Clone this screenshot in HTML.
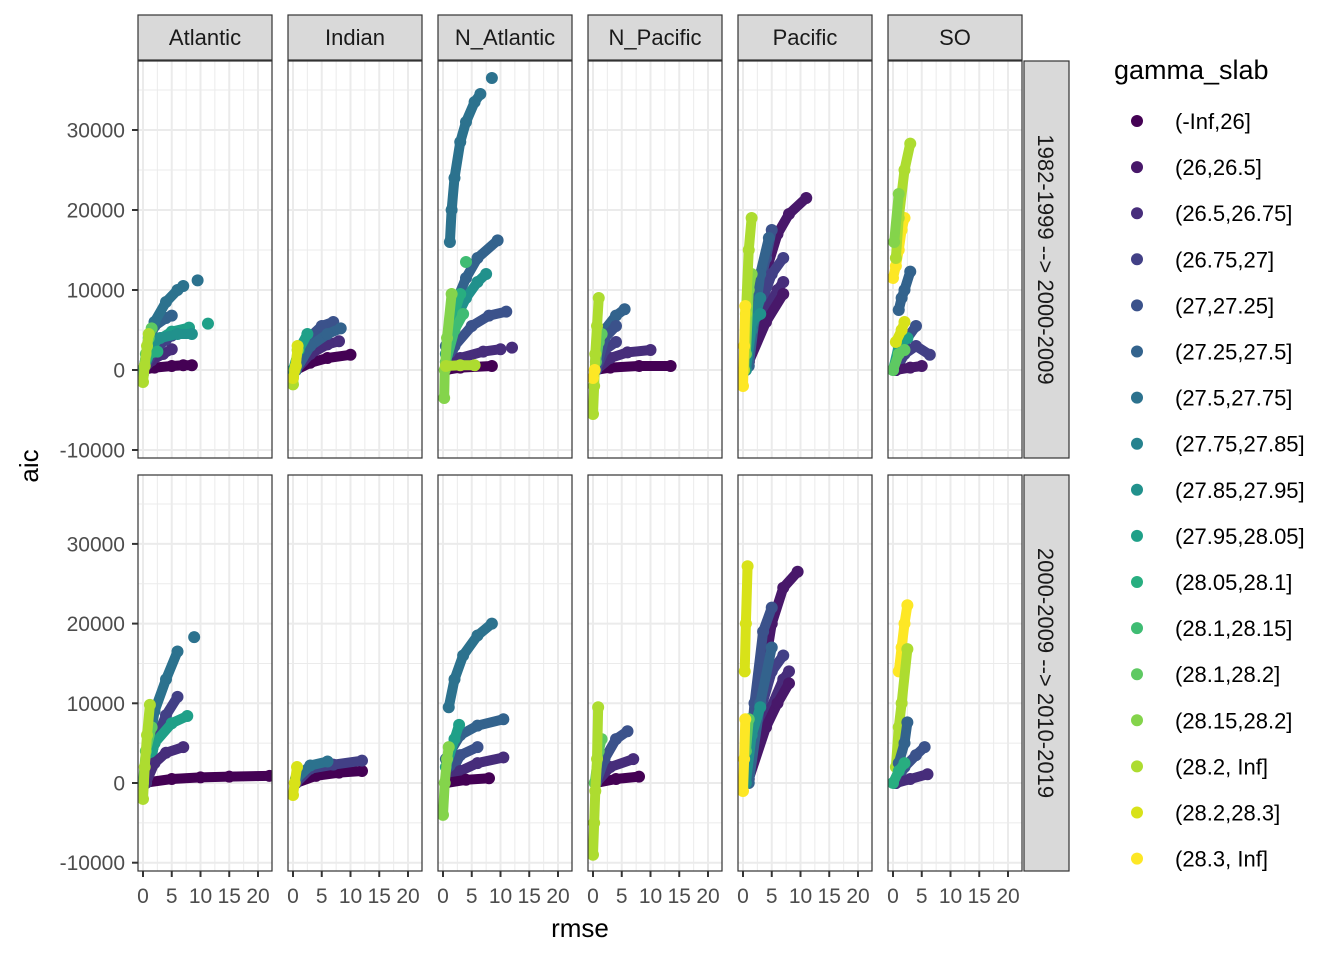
<!DOCTYPE html>
<html><head><meta charset="utf-8"><style>
html,body{margin:0;padding:0;background:#fff;}
svg{display:block;font-family:"Liberation Sans",Arial,sans-serif;}
</style></head><body>
<svg id="chart" width="1344" height="960" viewBox="0 0 1344 960"></svg>
<script>
const facets = ["Atlantic","Indian","N_Atlantic","N_Pacific","Pacific","SO"];
const rows = ["1982-1999 --> 2000-2009","2000-2009 --> 2010-2019"];
const groupLabels = ["(-Inf,26]","(26,26.5]","(26.5,26.75]","(26.75,27]","(27,27.25]","(27.25,27.5]","(27.5,27.75]","(27.75,27.85]","(27.85,27.95]","(27.95,28.05]","(28.05,28.1]","(28.1,28.15]","(28.1,28.2]","(28.15,28.2]","(28.2, Inf]","(28.2,28.3]","(28.3, Inf]"];
const groupColors = ["#440154","#48186a","#472d7b","#424086","#3b528b","#33638d","#2c728e","#26828e","#21918c","#1fa088","#28ae80","#3fbc73","#5ec962","#84d44b","#addc30","#d8e219","#fde725"];
const xTicks = [0,5,10,15,20];
const yTicks = [-10000,0,10000,20000,30000];

// each curve: [group, [[rmse, aic], ...]]
const atlantic1 = [
 [0,[[0,0],[2,300],[5,500],[7,600],[8.5,600]]],
 [2,[[0,0],[1.5,1200],[3.5,2000],[5,2600]]],
 [3,[[0,0],[2,2500],[4,3800],[5,4300]]],
 [5,[[0,0],[1,3500],[2,5500],[4,6500],[5,6800]]],
 [6,[[0,0],[1,3000],[2,6000],[4,8500],[6,10000],[7,10500]]],
 [6,[[9.5,11200]]],
 [9,[[0,0],[2,3500],[5,4800],[8,5300]]],
 [9,[[11.3,5800]]],
 [8,[[0,0],[1,3000],[3,4000],[6,4500],[8.5,4500]]],
 [10,[[0,0],[1,2000],[2.5,2300]]],
 [12,[[0,-500],[0.5,2000],[1,4000],[1.5,5200]]],
 [14,[[0,-1500],[0.3,500],[0.7,3000],[1,4500]]]
];
const indian1 = [
 [0,[[0.5,0],[3,900],[6,1500],[10,1900]]],
 [2,[[0.5,0],[3,2000],[6,3200],[8,3600]]],
 [4,[[0.5,0],[2,3500],[5,5500],[7,6000]]],
 [5,[[0.5,0],[3,3000],[6,4500],[8.3,5200]]],
 [9,[[0,0],[1,2500],[2.5,4500]]],
 [14,[[0,-1800],[0.3,0],[0.8,2500]]],
 [15,[[0,-1000],[0.5,500],[0.8,3000]]]
];
const nAtlantic1 = [
 [6,[[1.2,16000],[1.5,20000],[2,24000],[3,28500],[4,31000],[5.5,33500],[6.5,34500]]],
 [6,[[8.5,36500]]],
 [5,[[0.5,3000],[2,8000],[4,11500],[6,14000],[9.5,16200]]],
 [8,[[0.5,2000],[2,6000],[4,9000],[6,11000],[7.5,12000]]],
 [10,[[0.5,1000],[1.5,6000],[3,9500]]],
 [11,[[4,13500]]],
 [4,[[0.5,0],[2,3000],[5,5500],[8,6800],[11,7300]]],
 [2,[[0.5,0],[3,1500],[7,2300],[10,2600]]],
 [2,[[12,2800]]],
 [0,[[0.5,0],[3,300],[8.5,500]]],
 [11,[[0.5,1000],[2,5000],[3.5,7000]]],
 [13,[[0.2,-3500],[0.3,0],[0.7,4000],[1.5,9500]]],
 [14,[[0.5,500],[3,600],[5.5,600]]]
];
const nPacific1 = [
 [0,[[0.5,0],[3,300],[8,500],[13.5,500]]],
 [2,[[0.5,0],[3,1500],[6,2200],[10,2500]]],
 [3,[[0.5,0],[2,2500],[4,3500]]],
 [5,[[0.5,0],[2,5000],[4,6800],[5.5,7600]]],
 [4,[[0.5,0],[2,4000],[4,5500]]],
 [12,[[0.5,1000],[1,3500],[1.5,4500]]],
 [14,[[0,-5500],[0.2,-2000],[0.4,2000],[0.7,5500],[1,9000]]],
 [16,[[0,-1000],[0.3,0]]]
];
const pacific1 = [
 [1,[[1,3000],[3,10000],[6,17000],[8,19500],[11,21500]]],
 [4,[[1,2000],[2,8000],[4,14000],[5,17500]]],
 [3,[[1,1500],[3,8000],[5,12000],[7,14000]]],
 [2,[[1,1000],[3,6000],[6,10000],[7,11000]]],
 [1,[[1,1000],[4,6000],[7,9500]]],
 [5,[[1,500],[3,12000],[4.5,16500]]],
 [7,[[0.5,0],[1.5,5000],[3,9000]]],
 [8,[[0.5,0],[1.5,6000],[3,7000]]],
 [13,[[0.5,2000],[1,10000],[1.5,12000]]],
 [14,[[0.2,0],[0.5,7000],[1,15000],[1.5,19000]]],
 [16,[[0,-2000],[0.2,3000],[0.4,8000]]]
];
const so1 = [
 [16,[[0,11500],[0.5,13000],[1,15000],[1.5,17500],[2,19000]]],
 [14,[[0.5,14000],[1,19000],[2,25000],[3,28300]]],
 [13,[[0.2,16000],[1,22000]]],
 [5,[[1,7500],[1.5,9000],[2,10000],[3,12300]]],
 [4,[[0.5,0],[2,3500],[4,5500]]],
 [3,[[0.5,0],[2,2000],[4,3000],[6.4,1900]]],
 [1,[[0.5,0],[3,300],[5,500]]],
 [9,[[0,0],[1,3000],[2.5,4000]]],
 [12,[[0,0],[1,2000],[2,2500]]],
 [15,[[0.5,3500],[1.5,5000],[2,6000]]]
];
const atlantic2 = [
 [0,[[0,0],[5,500],[10,700],[15,800],[22,900]]],
 [6,[[0.5,2000],[2,9000],[4,13000],[6,16500]]],
 [6,[[8.9,18300]]],
 [3,[[0.5,0],[2,5000],[4,8500],[6,10800]]],
 [9,[[0.5,0],[2,5000],[5,7500],[7.7,8400]]],
 [2,[[0.5,0],[2,2500],[4,3800],[7,4500]]],
 [12,[[0,0],[0.5,4000],[1.5,7000]]],
 [14,[[0,-2000],[0.3,2000],[0.7,6000],[1.2,9800]]]
];
const indian2 = [
 [0,[[0.5,0],[4,900],[8,1300],[12,1500]]],
 [3,[[0.5,0],[3,1800],[7,2300],[12,2800]]],
 [6,[[0.5,500],[3,2200],[6,2700]]],
 [15,[[0,-1500],[0.3,0],[0.7,2000]]]
];
const nAtlantic2 = [
 [6,[[1,9500],[2,13000],[3.5,16000],[6,18500],[8.5,20000]]],
 [5,[[0.5,3000],[3,6000],[6,7200],[10.5,8000]]],
 [4,[[0.5,0],[3,3500],[6,4500]]],
 [2,[[0.5,0],[3,1500],[6,2500],[10.5,3200]]],
 [0,[[0.5,0],[4,400],[8,600]]],
 [9,[[0.5,2000],[2,5500],[2.8,7300]]],
 [13,[[0,-4000],[0.3,0],[0.7,3000],[1,4500]]]
];
const nPacific2 = [
 [0,[[0.5,0],[4,500],[8,800]]],
 [2,[[0.5,0],[3,2000],[7,3000]]],
 [4,[[0.5,0],[2,3000],[4,5500],[6,6500]]],
 [12,[[0.3,0],[1,4000],[1.5,5500]]],
 [14,[[0,-9000],[0.2,-5000],[0.4,-1000],[0.7,3000],[0.9,9500]]]
];
const pacific2 = [
 [1,[[1,2000],[3,11000],[5,20000],[7,24500],[9.5,26500]]],
 [4,[[1,2000],[2,10000],[3.5,19000],[5,22000]]],
 [3,[[1,1000],[3,9000],[5,14000],[7,16000]]],
 [2,[[1,1000],[4,8000],[7,13000],[8,14000]]],
 [1,[[1,500],[4,7000],[6,10000],[8,12500]]],
 [5,[[1,0],[3,10000],[5,17000]]],
 [8,[[0.5,0],[1.5,6000],[3,9500]]],
 [12,[[0.5,4000],[1,8000]]],
 [15,[[0.3,14000],[0.5,20000],[0.8,27200]]],
 [16,[[0,-1000],[0.2,3000],[0.4,8000]]]
];
const so2 = [
 [16,[[1,14000],[1.5,17000],[2,20000],[2.5,22300]]],
 [14,[[0.5,2000],[1,7000],[1.5,10000],[2.5,16800]]],
 [5,[[1,2500],[2,5000],[2.5,7600]]],
 [4,[[0.5,0],[2,2000],[4,3500],[5.5,4500]]],
 [2,[[0.5,0],[3,500],[6,1100]]],
 [10,[[0,0],[1,1500],[2,2500]]]
];
const panelData = [[atlantic1,indian1,nAtlantic1,nPacific1,pacific1,so1],[atlantic2,indian2,nAtlantic2,nPacific2,pacific2,so2]];

const NS="http://www.w3.org/2000/svg";
const svg=document.getElementById('chart');
function mk(tag,attrs,parent){const e=document.createElementNS(NS,tag);for(const k in attrs)e.setAttribute(k,attrs[k]);(parent||svg).appendChild(e);return e;}

const PL=[138,288,438,588,738,888], PW=134;
const RT=[61,475], PH=[397,396];
const xScale=(i,v)=>PL[i]+5+v*5.75;
const yScale=(r,v)=>r===0?370-v*0.008:783-v*0.00797;

// strips top
facets.forEach((f,i)=>{
  const g=mk('g',{});
  
  
  mk('rect',{x:PL[i],y:15,width:PW,height:45,fill:'#d9d9d9',stroke:'#333',"stroke-width":1.2},g);
  const t=mk('text',{x:PL[i]+PW/2,y:45,"text-anchor":"middle","font-size":22,fill:'#1a1a1a'},g);t.textContent=f;
});
rows.forEach((r,ri)=>{
  const g=mk('g',{});
  
  
  mk('rect',{x:1024,y:RT[ri],width:45,height:PH[ri],fill:'#d9d9d9',stroke:'#333',"stroke-width":1.2},g);
  const cy=RT[ri]+PH[ri]/2;
  const t=mk('text',{x:1038,y:cy,"text-anchor":"middle","font-size":22,fill:'#1a1a1a',transform:`rotate(90 1038 ${cy})`},g);t.textContent=r;
});

for(let r=0;r<2;r++){
  for(let i=0;i<6;i++){
    const g=mk('g',{});
    
    
    const top=RT[r],bot=RT[r]+PH[r],L=PL[i],R=PL[i]+PW;
    mk('rect',{x:L,y:top,width:PW,height:PH[r],fill:'#fff'},g);
    const cp='cp'+r+i;
    const cd=mk('clipPath',{id:cp},g);mk('rect',{x:L,y:top,width:PW,height:PH[r]},cd);
    for(let v=-15000;v<=40000;v+=5000){const y=yScale(r,v);if(y<top||y>bot)continue;
      mk('line',{x1:L,x2:R,y1:y,y2:y,stroke:'#ebebeb',"stroke-width":v%10000===0?2:1},g);}
    for(let v=-2.5;v<=25;v+=2.5){const x=xScale(i,v);if(x<L||x>R)continue;
      mk('line',{x1:x,x2:x,y1:top,y2:bot,stroke:'#ebebeb',"stroke-width":v%5===0?2:1},g);}
    const pg=mk('g',{"clip-path":`url(#${cp})`},g);
    panelData[r][i].forEach(c=>{
      const col=groupColors[c[0]];
      const pts=c[1].map(p=>[xScale(i,p[0]),yScale(r,p[1])]);
      if(pts.length>1){
        const l=mk('polyline',{points:pts.map(p=>p.join(',')).join(' '),fill:'none',stroke:col,"stroke-width":10,"stroke-linecap":"round","stroke-linejoin":"round"},pg);
        
        
      }
      pts.forEach(p=>{const d=mk('circle',{cx:p[0],cy:p[1],r:6,fill:col},pg);
        
        });
    });
    mk('rect',{x:L,y:top,width:PW,height:PH[r],fill:'none',stroke:'#333',"stroke-width":1.2},g);
    if(i===0){
      yTicks.forEach(v=>{const y=yScale(r,v);
        mk('line',{x1:132,x2:138,y1:y,y2:y,stroke:'#333',"stroke-width":2},g);
        const t=mk('text',{x:125,y:y+7.5,"text-anchor":"end","font-size":21,fill:'#4d4d4d'},g);t.textContent=v;
        
        });
    }
    if(r===1){
      xTicks.forEach(v=>{const x=xScale(i,v);
        mk('line',{x1:x,x2:x,y1:871,y2:877,stroke:'#333',"stroke-width":2},g);
        const t=mk('text',{x:x,y:903,"text-anchor":"middle","font-size":21,fill:'#4d4d4d'},g);t.textContent=v;
        
        });
    }
  }
}
// axis titles
let t=mk('text',{x:580,y:937,"text-anchor":"middle","font-size":26,fill:'#000'});t.textContent='rmse';


t=mk('text',{x:38,y:466,"text-anchor":"middle","font-size":26,fill:'#000',transform:'rotate(-90 38 466)'});t.textContent='aic';


// legend
const lg=mk('g',{});


t=mk('text',{x:1114,y:79,"font-size":27,fill:'#000'},lg);t.textContent='gamma_slab';
groupLabels.forEach((lab,k)=>{
  const y=121+k*46.1;
  const e=mk('g',{},lg);
  
  
  mk('circle',{cx:1137,cy:y,r:6,fill:groupColors[k]},e);
  const tt=mk('text',{x:1175,y:y+8,"font-size":22,fill:'#000'},e);tt.textContent=lab;
});
</script>
</body></html>
